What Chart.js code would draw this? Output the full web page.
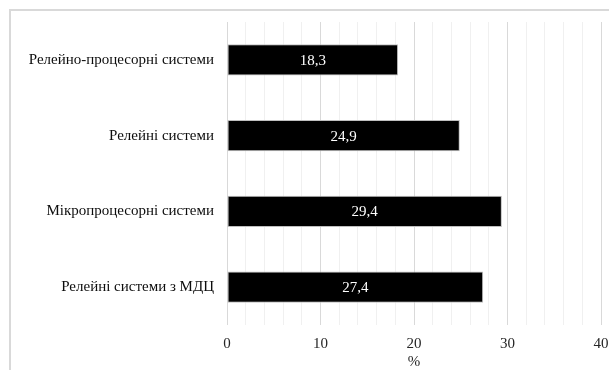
<!DOCTYPE html>
<html>
<head>
<meta charset="utf-8">
<script src="https://cdn.jsdelivr.net/npm/chart.js@4/dist/chart.umd.min.js"></script>
<style>
html,body{margin:0;padding:0;background:#fff;}
#frame{position:absolute;left:9px;top:9px;width:600px;height:361px;border-left:2px solid #d9d9d9;border-top:2px solid #d9d9d9;}
#wrap{position:absolute;left:0;top:0;width:609px;height:370px;}
</style>
</head>
<body>
<div id="frame"></div>
<div id="wrap"><canvas id="c" width="609" height="370"></canvas></div>
<script>
const categories = ['Релейно-процесорні системи', 'Релейні системи', 'Мікропроцесорні системи', 'Релейні системи з МДЦ'];
const values = [18.3, 24.9, 29.4, 27.4];
const axisTitle = '%';

const FONT = "'Liberation Serif', 'Times New Roman', serif";

const valueLabels = {
  id: 'valueLabels',
  afterDatasetsDraw(chart) {
    const ctx = chart.ctx;
    const meta = chart.getDatasetMeta(0);
    ctx.save();
    ctx.font = '15px ' + FONT;
    ctx.fillStyle = '#ffffff';
    ctx.textAlign = 'center';
    ctx.textBaseline = 'middle';
    meta.data.forEach((bar, i) => {
      const cx = (bar.x + bar.base) / 2;
      ctx.fillText(values[i].toFixed(1).replace('.', ','), cx, bar.y + 1);
    });
    ctx.restore();
  }
};

new Chart(document.getElementById('c'), {
  type: 'bar',
  data: {
    labels: categories,
    datasets: [{
      data: values,
      backgroundColor: '#000000',
      borderColor: '#bfbfbf',
      borderWidth: 1,
      borderSkipped: false,
      barPercentage: 0.41,
      categoryPercentage: 1.0
    }]
  },
  options: {
    indexAxis: 'y',
    responsive: false,
    animation: false,
    devicePixelRatio: 1,
    layout: { padding: { top: 22, right: 8, bottom: 0, left: 0 } },
    plugins: { legend: { display: false }, tooltip: { enabled: false } },
    scales: {
      x: {
        min: 0, max: 40,
        ticks: {
          stepSize: 2,
          autoSkip: false,
          maxRotation: 0,
          padding: 10,
          color: '#262626',
          font: { family: FONT, size: 15 },
          callback: (v) => (v % 10 === 0 ? String(v) : '')
        },
        grid: {
          drawTicks: false,
          color: (ctx) => (ctx.tick && ctx.tick.value % 10 === 0 ? '#d9d9d9' : '#f0f0f0'),
          lineWidth: 1
        },
        border: { display: false },
        title: { display: true, text: axisTitle, color: '#262626', font: { family: FONT, size: 15 }, padding: { top: 0, bottom: -1 } },
        afterFit: (s) => { s.height = 45; s.paddingRight = 0; s.paddingLeft = 0; }
      },
      y: {
        ticks: {
          padding: 13,
          color: '#0d0d0d',
          font: { family: FONT, size: 15 }
        },
        grid: { display: false, drawTicks: false },
        border: { display: false },
        afterFit: (s) => { s.width = 227; }
      }
    }
  },
  plugins: [valueLabels]
});
</script>
</body>
</html>
